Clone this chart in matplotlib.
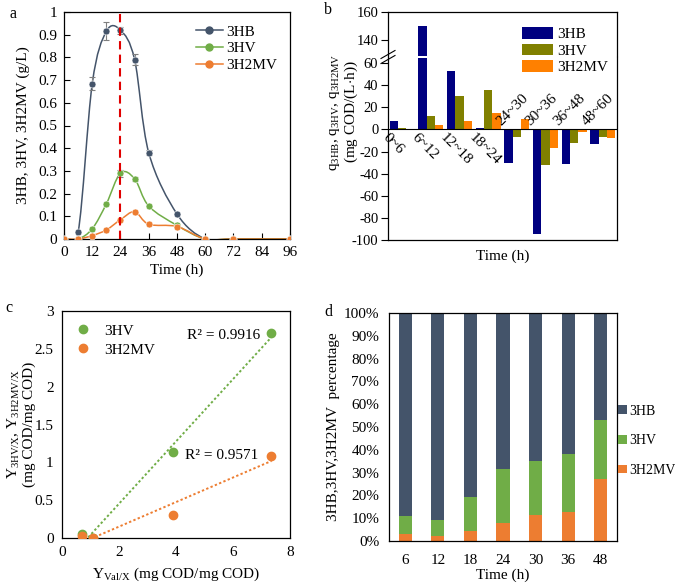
import numpy as np
import matplotlib
matplotlib.use('Agg')
import matplotlib.pyplot as plt
from matplotlib.path import Path
from matplotlib.patches import PathPatch
from matplotlib.lines import Line2D
from matplotlib.ticker import FuncFormatter, PercentFormatter

plt.rcParams['font.family'] = ['Liberation Serif', 'DejaVu Serif']
plt.rcParams['font.size'] = 11
plt.rcParams['mathtext.fontset'] = 'custom'
plt.rcParams['mathtext.rm'] = 'Liberation Serif'
plt.rcParams['mathtext.it'] = 'Liberation Serif:italic'
plt.rcParams['axes.linewidth'] = 0.9
plt.rcParams['axes.unicode_minus'] = False

# ---- panel a: concentrations over time
time_a = [0, 6, 12, 18, 24, 30, 36, 48, 60, 72, 96]
hb_a = [0, 0.03, 0.685, 0.915, 0.92, 0.79, 0.38, 0.11, 0, 0, 0]
hv_a = [0, 0, 0.045, 0.155, 0.29, 0.265, 0.145, 0.06, 0, 0, 0]
h2mv_a = [0, 0, 0.015, 0.04, 0.085, 0.12, 0.065, 0.055, 0, 0, 0]
hb_err = [0, 0, 0.03, 0.04, 0.015, 0.025, 0.01, 0, 0, 0, 0]
hv_err = [0, 0, 0, 0, 0.015, 0.01, 0, 0, 0, 0, 0]

# ---- panel b: rates
cats_b = ['0~6', '6~12', '12~18', '18~24', '24~30', '30~36', '36~48', '48~60']
q_hb = [8, 150, 53, 1, -30, -95, -31, -13]
q_hv = [1, 12, 30, 36, -7, -32, -12, -7]
q_h2mv = [0.5, 4, 8, 14.5, 9, -16.5, -2.5, -8]

# ---- panel c: yields
yval_hv = [0.7, 1.1, 3.9, 7.35]
y_hv = [0.05, 0.0, 1.13, 2.71]
yval_h2mv = [0.7, 1.1, 3.9, 7.35]
y_h2mv = [0.02, 0.0, 0.31, 1.09]

# ---- panel d: percentages
cats_d = ['6', '12', '18', '24', '30', '36', '48']
d_h2mv = [3.2, 2.2, 4.4, 7.8, 11.3, 12.8, 27]
d_hv = [7.8, 7.0, 15.1, 23.6, 23.6, 25.5, 26]
d_hb = [89, 90.8, 80.5, 68.6, 65.1, 61.7, 47]

c_hb = '#44546A'
c_hv = '#70AD47'
c_mv = '#ED7D31'


def smooth_path(x, y):
    # excel-like smoothed line (catmull-rom as bezier)
    x = np.asarray(x, float)
    y = np.asarray(y, float)
    n = len(x)
    verts = [(x[0], y[0])]
    codes = [Path.MOVETO]
    for i in range(n - 1):
        xa, ya = (x[i - 1], y[i - 1]) if i > 0 else (x[i], y[i])
        xd, yd = (x[i + 2], y[i + 2]) if i + 2 < n else (x[i + 1], y[i + 1])
        c1 = (x[i] + (x[i + 1] - xa) / 6, y[i] + (y[i + 1] - ya) / 6)
        c2 = (x[i + 1] - (xd - x[i]) / 6, y[i + 1] - (yd - y[i]) / 6)
        verts += [c1, c2, (x[i + 1], y[i + 1])]
        codes += [Path.CURVE4] * 3
    return Path(verts, codes)


W, H = 675, 585
fig = plt.figure(figsize=(6.75, 5.85), dpi=100)


def box(l, t, r, b):
    return [l / W, 1 - b / H, (r - l) / W, (b - t) / H]


gfmt = FuncFormatter(lambda v, p: '%g' % v)

# ================= a
ax = fig.add_axes(box(64, 12, 290, 239))
for yy, err, c in [(hb_a, hb_err, c_hb), (hv_a, hv_err, c_hv), (h2mv_a, None, c_mv)]:
    ax.add_patch(PathPatch(smooth_path(time_a, yy), fc='none', ec=c, lw=1.1, zorder=2))
    if err is not None:
        e = np.array(err)
        m = e > 0
        ax.errorbar(np.array(time_a)[m], np.array(yy)[m], yerr=e[m], fmt='none',
                    ecolor='#7f7f7f', elinewidth=0.8, capsize=2.5, capthick=0.8, zorder=3)
    ax.plot(time_a, yy, 'o', color=c, ms=5, mec='white', mew=0.4, zorder=4)
ax.axvline(24, color='#E00000', ls=(0, (4, 2.5)), lw=1.5, zorder=5)
ax.set_xlim(0, 96)
ax.set_ylim(0, 1)
ax.set_xticks(range(0, 97, 12))
ax.set_yticks(np.arange(0, 1.01, 0.1))
ax.yaxis.set_major_formatter(gfmt)
ax.tick_params(direction='in', length=4, width=0.8, pad=5)
ax.set_xlabel('Time (h)')
ax.set_ylabel('3HB, 3HV, 3H2MV (g/L)')
ax.yaxis.set_label_coords(-0.15, 0.5)
ax.xaxis.set_label_coords(0.5, -0.11)
hl = [Line2D([], [], color=c, marker='o', ms=5, lw=1.1) for c in (c_hb, c_hv, c_mv)]
ax.legend(hl, ['3HB', '3HV', '3H2MV'], loc='upper left', bbox_to_anchor=(0.555, 0.97),
          frameon=False, handlelength=1.8, handletextpad=0.2, labelspacing=0.2,
          borderaxespad=0)

# ================= b (broken axis)
axt = fig.add_axes(box(388, 12, 617, 55.5))
axb = fig.add_axes(box(388, 57.5, 617, 240))
xb = np.arange(len(cats_b))
bw = 0.29
for a_ in (axt, axb):
    a_.bar(xb - bw, q_hb, bw, color='#000080', label='3HB')
    a_.bar(xb, q_hv, bw, color='#808000', label='3HV')
    a_.bar(xb + bw, q_h2mv, bw, color='#FF8000', label='3H2MV')
    a_.set_xlim(-0.5, len(cats_b) - 0.5)
    a_.set_xticks([])
    a_.tick_params(axis='y', direction='out', length=5, width=0.8, pad=2, labelsize=10.5)
axt.set_ylim(129, 160)
axt.set_yticks([140, 160])
axt.spines['bottom'].set_visible(False)
axb.set_ylim(-100, 65)
axb.set_yticks(range(-100, 61, 20))
axb.spines['top'].set_visible(False)
axb.axhline(0, color='black', lw=0.8)
for i, lab in enumerate(cats_b):
    if i < 4:
        axb.text(i - 0.45, -1, lab, rotation=-45, rotation_mode='anchor',
                 ha='left', va='top')
    else:
        axb.text(i - 0.47, 1.5, lab, rotation=45, rotation_mode='anchor',
                 ha='left', va='bottom')
axb.set_xlabel('Time (h)')
axb.xaxis.set_label_coords(0.5, -0.05)
axb.legend(loc='upper left', bbox_to_anchor=(0.56, 1.2), frameon=False,
           handlelength=2.0, handleheight=0.8, handletextpad=0.3, labelspacing=0.15,
           borderaxespad=0)
fig.text(344 / W, 1 - 112 / H,
         'q$_{\\mathrm{3HB}}$, q$_{\\mathrm{3HV}}$, q$_{\\mathrm{3H2MV}}$\n(mg COD/(L$\\cdot$h))',
         rotation=90, ha='center', va='center', multialignment='center', linespacing=1.0)
# break marks
for dy in (-2.5, 2.5):
    fig.add_artist(Line2D([381 / W, 395 / W],
                          [1 - (57 + dy + 4) / H, 1 - (57 + dy - 4) / H],
                          color='black', lw=0.8))

# ================= c
ax = fig.add_axes(box(62, 311, 290, 538))
ax.plot(yval_hv, y_hv, 'o', color=c_hv, ms=6, label='3HV', zorder=3)
ax.plot(yval_h2mv, y_h2mv, 'o', color=c_mv, ms=6, label='3H2MV', zorder=3)
for xs, ys, c in [(yval_hv, y_hv, c_hv), (yval_h2mv, y_h2mv, c_mv)]:
    k, b0 = np.polyfit(xs, ys, 1)
    xx = np.array([min(xs), max(xs)])
    ax.plot(xx, k * xx + b0, ls=(0, (1.2, 1.2)), color=c, lw=1.4, zorder=2)
ax.text(6.95, 2.67, 'R² = 0.9916', ha='right', va='center')
ax.text(6.88, 1.09, 'R² = 0.9571', ha='right', va='center')
ax.set_xlim(0, 8)
ax.set_ylim(0, 3)
ax.set_xticks(range(0, 9, 2))
ax.set_yticks(np.arange(0, 3.01, 0.5))
ax.yaxis.set_major_formatter(gfmt)
ax.tick_params(direction='in', length=0, pad=6)
ax.set_xlabel('Y$_{\\mathrm{Val/X}}$ (mg COD/mg COD)')
ax.xaxis.set_label_coords(0.5, -0.12)
ax.set_ylabel('Y$_{\\mathrm{3HV/X}}$, Y$_{\\mathrm{3H2MV/X}}$\n(mg COD/mg COD)',
              multialignment='center', linespacing=1.05)
ax.yaxis.set_label_coords(-0.115, 0.5)
ax.legend(loc='upper left', bbox_to_anchor=(0.03, 0.97), frameon=False,
          handlelength=1.0, handletextpad=0.9, labelspacing=0.35, borderaxespad=0)

# ================= d
ax = fig.add_axes(box(389, 313, 617, 541))
xd = np.arange(len(cats_d))
ax.bar(xd, d_h2mv, 0.4, color=c_mv, label='3H2MV')
ax.bar(xd, d_hv, 0.4, bottom=d_h2mv, color=c_hv, label='3HV')
ax.bar(xd, d_hb, 0.4, bottom=np.add(d_h2mv, d_hv), color=c_hb, label='3HB')
ax.set_xlim(-0.5, len(cats_d) - 0.5)
ax.set_ylim(0, 100)
ax.set_xticks(xd)
ax.set_xticklabels(cats_d)
ax.set_yticks(range(0, 101, 10))
ax.yaxis.set_major_formatter(PercentFormatter(decimals=0))
ax.tick_params(axis='x', length=0, pad=9)
ax.tick_params(axis='y', length=0, pad=7)
ax.set_xlabel('Time (h)')
ax.xaxis.set_label_coords(0.5, -0.12)
ax.set_ylabel('3HB,3HV,3H2MV  percentage')
ax.yaxis.set_label_coords(-0.215, 0.5)
h_, l_ = ax.get_legend_handles_labels()
ax.legend(h_[::-1], l_[::-1], loc='center left', bbox_to_anchor=(1.0, 0.44), frameon=False,
          fontsize=10, handlelength=0.6, handleheight=0.6, handletextpad=0.2,
          labelspacing=1.2, borderaxespad=0.1, borderpad=0)

# panel letters
for lab, px, py in [('a', 13, 14), ('b', 328, 10), ('c', 9, 308), ('d', 328, 312)]:
    fig.text(px / W, 1 - py / H, lab, fontsize=11.5, ha='center', va='center')

fig.savefig('out.png', dpi=100)
